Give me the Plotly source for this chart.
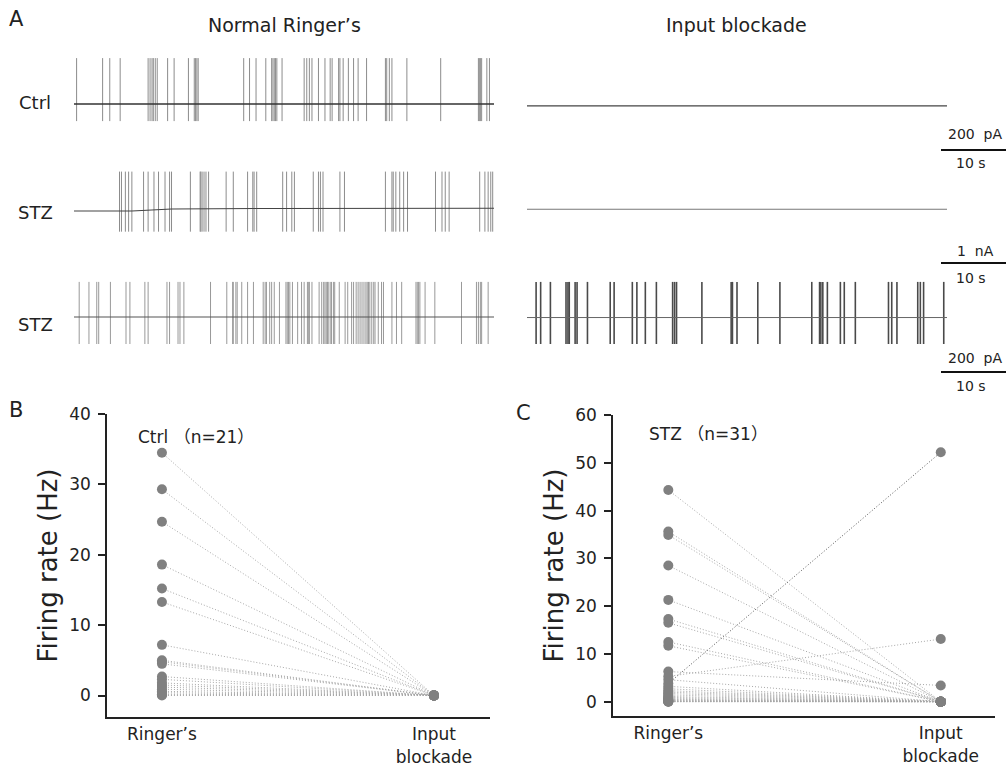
import plotly.graph_objects as go

W, H = 1006, 768
FONT = "DejaVu Sans"

# ---------------- Panel A: spike times (s) ----------------
ctrl_ringer_spikes = [0.4, 4.4, 5.5, 7.1, 11.4, 11.7, 12.0, 12.2, 12.5, 12.8, 14.4, 15.4, 17.6,
                      18.5, 18.7, 18.9, 19.1, 26.1, 27.0, 28.0, 29.5, 30.4, 30.6, 30.8, 31.0, 31.2,
                      32.0, 35.4, 35.8, 36.2, 36.6, 37.6, 38.6, 39.4, 39.7, 40.7, 40.9, 41.4, 42.2,
                      43.0, 43.7, 45.0, 47.9, 48.1, 48.5, 48.9, 51.2, 56.4, 62.2, 62.4, 62.5, 62.7,
                      63.5, 63.9]
stz1_ringer_spikes = [7.0, 7.3, 7.9, 8.4, 8.9, 10.7, 11.4, 12.3, 13.0, 14.0, 14.7, 15.0, 17.9,
                      19.4, 19.5, 19.7, 20.0, 20.3, 20.7, 23.4, 24.5, 26.7, 27.5, 27.7, 28.1, 32.1,
                      32.7, 33.5, 33.9, 36.8, 37.6, 37.9, 38.3, 40.9, 41.6, 47.9, 48.9, 49.1, 49.5,
                      50.1, 50.7, 51.3, 55.6, 56.6, 57.1, 57.7, 62.4, 63.2, 63.7, 64.1, 64.4]
stz1_base_t = [0.0, 8.9, 15.0, 30.0, 64.6]
stz1_base_i = [-55, -55, -10, 0, 5]
stz2_ringer_spikes = [0.8, 2.3, 3.5, 3.8, 5.6, 8.0, 8.6, 10.9, 11.4, 14.3, 14.7, 16.0, 16.3, 16.9,
                      21.0, 23.5, 24.4, 24.5, 24.9, 25.1, 25.8, 26.7, 27.6, 29.1, 29.4, 29.6, 30.1,
                      30.4, 30.8, 31.6, 32.6, 32.8, 33.0, 33.2, 33.6, 34.4, 35.0, 35.4, 35.9, 36.1,
                      36.2, 36.6, 37.7, 38.1, 38.4, 38.6, 38.8, 39.0, 39.1, 39.4, 39.6, 39.9, 40.1,
                      40.8, 41.7, 42.1, 42.7, 43.0, 43.4, 43.7, 44.0, 44.3, 44.6, 44.9, 45.1, 45.3,
                      45.5, 45.8, 46.1, 46.3, 46.8, 47.3, 47.6, 48.9, 49.6, 50.4, 52.6, 52.8, 53.0,
                      53.2, 54.0, 55.5, 59.6, 61.9, 62.2, 62.5, 62.7, 63.7]
stz2_block_bursts = [1.4, 2.1, 3.6, 6.0, 6.3, 6.5, 7.4, 7.7, 9.3, 12.8, 13.4, 16.2, 16.9, 18.2,
                     19.9, 22.4, 22.7, 23.0, 26.9, 31.4, 31.6, 32.3, 35.5, 38.9, 43.8, 45.0, 45.2,
                     45.5, 46.2, 48.2, 48.8, 50.5, 55.6, 56.1, 56.9, 60.1, 60.5, 61.0, 64.1]

# spike extents (pA) per recording
ctrl_spike_range = [-95, 255]
stz1_spike_range = [-515, 820]
stz2_spike_range = [-150, 195]
trace_len_s = 64.6

# ---------------- Panels B & C: firing rates (Hz) ----------------
group_labels = ["Ringer\u2019s", "Input<br>blockade"]
ctrl_ringer = [34.5, 29.3, 24.7, 18.6, 15.2, 13.3, 7.2, 5.0, 4.8, 4.5, 2.7, 2.3, 1.8, 1.5, 1.2,
               0.9, 0.6, 0.4, 0.2, 0.1, 0.0]
ctrl_block = [0.0, 0.0, 0.0, 0.0, 0.0, 0.0, 0.0, 0.0, 0.0, 0.0, 0.0, 0.0, 0.0, 0.0, 0.0,
              0.0, 0.0, 0.0, 0.0, 0.0, 0.0]
stz_ringer = [44.3, 35.6, 34.9, 28.5, 21.3, 17.3, 16.5, 12.5, 11.7, 6.3, 5.3, 4.6, 3.8, 3.2, 2.7,
              2.3, 2.0, 1.7, 1.4, 1.1, 0.9, 0.7, 0.5, 0.4, 0.3, 0.2, 0.1, 0.1, 0.05, 0.0, 0.0]
stz_block = [0.0, 0.0, 0.0, 0.0, 0.0, 0.0, 0.0, 0.0, 0.0, 3.4, 13.1, 0.0, 52.2, 0.0, 0.0,
             0.0, 0.0, 0.0, 0.0, 0.0, 0.0, 0.0, 0.0, 0.0, 0.0, 0.0, 0.0, 0.0, 0.0, 0.0, 0.0]


def xd(a, b):
    return [a / W, b / W]


def yd(top, bottom):
    return [1 - bottom / H, 1 - top / H]


def px_x(p):
    return p / W


def px_y(p):
    return 1 - p / H


fig = go.Figure()


def spikes(times, rng):
    xs, ys = [], []
    for t in times:
        xs += [t, t, None]
        ys += [rng[0], rng[1], None]
    return xs, ys


def add_line(x, y, ax, color, width):
    fig.add_trace(go.Scatter(x=x, y=y, mode="lines", xaxis="x" + ax, yaxis="y" + ax,
                             line=dict(color=color, width=width), hoverinfo="skip",
                             showlegend=False, connectgaps=False))


# row 1 (Ctrl)
sx, sy = spikes(ctrl_ringer_spikes, ctrl_spike_range)
add_line(sx, sy, "", "#8c8c8c", 1)
add_line([0, trace_len_s], [0, 0], "", "#333333", 1.6)
add_line([0, trace_len_s], [-10, -10], "2", "#444444", 1.3)
# row 2 (STZ)
sx, sy = spikes(stz1_ringer_spikes, stz1_spike_range)
add_line(sx, sy, "3", "#8c8c8c", 1)
add_line(stz1_base_t, stz1_base_i, "3", "#444444", 1.1)
add_line([0, trace_len_s], [-15, -15], "4", "#777777", 1.1)
# row 3 (STZ)
sx, sy = spikes(stz2_ringer_spikes, stz2_spike_range)
add_line(sx, sy, "5", "#999999", 1)
add_line([0, trace_len_s], [0, 0], "5", "#555555", 1.1)
sx, sy = spikes(stz2_block_bursts, stz2_spike_range)
add_line(sx, sy, "6", "#4a4a4a", 1.6)
add_line([0, trace_len_s], [-3, -3], "6", "#666666", 1)

# trace axes layout
rows = [(50, 130, 104, 0.18), (160, 245, 208.5, 0.045), (270, 355, 317, 0.18)]
cols = [(74, 494), (527, 947)]
layout_axes = {}
idx = 1
for (top, bottom, base, ppa) in rows:
    yr = [-(bottom - base) / ppa, (base - top) / ppa]
    for (l, r) in cols:
        xn = "xaxis" if idx == 1 else "xaxis%d" % idx
        yn = "yaxis" if idx == 1 else "yaxis%d" % idx
        anchor_y = "y" if idx == 1 else "y%d" % idx
        anchor_x = "x" if idx == 1 else "x%d" % idx
        layout_axes[xn] = dict(domain=xd(l, r), range=[0, trace_len_s], visible=False,
                               anchor=anchor_y, fixedrange=True, automargin=False)
        layout_axes[yn] = dict(domain=yd(top, bottom), range=yr, visible=False,
                               anchor=anchor_x, fixedrange=True, automargin=False)
        idx += 1


# ---------------- Panels B and C ----------------
def pair_lines(r, b, skip=None):
    xs, ys = [], []
    for i, (a, c) in enumerate(zip(r, b)):
        if skip is not None and i == skip:
            continue
        xs += [0, 1, None]
        ys += [a, c, None]
    return xs, ys


DOT = "1px,2px"
xs, ys = pair_lines(ctrl_ringer, ctrl_block)
fig.add_trace(go.Scatter(x=xs, y=ys, mode="lines", xaxis="x7", yaxis="y7",
                         line=dict(color="#a8a8a8", width=1, dash=DOT), showlegend=False,
                         hoverinfo="skip"))
fig.add_trace(go.Scatter(x=[0 for _ in ctrl_ringer] + [1 for _ in ctrl_block],
                         y=ctrl_ringer + ctrl_block, mode="markers", xaxis="x7", yaxis="y7",
                         marker=dict(color="#808080", size=10), showlegend=False))

up_idx = stz_block.index(max(stz_block))
xs, ys = pair_lines(stz_ringer, stz_block, skip=up_idx)
fig.add_trace(go.Scatter(x=xs, y=ys, mode="lines", xaxis="x8", yaxis="y8",
                         line=dict(color="#a8a8a8", width=1, dash=DOT), showlegend=False,
                         hoverinfo="skip"))
fig.add_trace(go.Scatter(x=[0, 1], y=[stz_ringer[up_idx], stz_block[up_idx]], mode="lines",
                         xaxis="x8", yaxis="y8",
                         line=dict(color="#555555", width=1, dash=DOT), showlegend=False,
                         hoverinfo="skip"))
fig.add_trace(go.Scatter(x=[0 for _ in stz_ringer] + [1 for _ in stz_block],
                         y=stz_ringer + stz_block, mode="markers", xaxis="x8", yaxis="y8",
                         marker=dict(color="#808080", size=10), showlegend=False))

axfont = dict(family=FONT, size=17, color="#222222")
common_y = dict(showline=True, linecolor="#222222", linewidth=1.5, ticks="outside",
                ticklen=7, tickwidth=1.5, tickcolor="#222222", showgrid=False, zeroline=False,
                tickfont=axfont, ticklabelstandoff=4, fixedrange=True, automargin=False,
                title=dict(text="Firing rate (Hz)", font=dict(family=FONT, size=26, color="#222222"),
                           standoff=4))
common_x = dict(showline=True, linecolor="#222222", linewidth=2, ticks="", showgrid=False,
                zeroline=False, tickvals=[0, 1], ticktext=group_labels, automargin=False,
                tickfont=dict(family=FONT, size=17, color="#222222"), fixedrange=True,
                ticklabelstandoff=1)

layout_axes["xaxis7"] = dict(common_x, domain=xd(107, 490), range=[-0.202, 1.206], anchor="y7")
layout_axes["yaxis7"] = dict(common_y, domain=yd(414, 717), range=[-3.05, 40],
                             tickvals=[0, 10, 20, 30, 40], anchor="x7")
layout_axes["xaxis8"] = dict(common_x, domain=xd(613, 995), range=[-0.203, 1.199], anchor="y8")
layout_axes["yaxis8"] = dict(common_y, domain=yd(415, 716), range=[-3.0, 60],
                             tickvals=[0, 10, 20, 30, 40, 50, 60], anchor="x8")

# ---------------- annotations ----------------
ann = []


def text(s, x, y, size, xanchor="center", yanchor="middle"):
    ann.append(dict(text=s, x=px_x(x), y=px_y(y), xref="paper", yref="paper", showarrow=False,
                    xanchor=xanchor, yanchor=yanchor,
                    font=dict(family=FONT + ", Noto Sans CJK SC", size=size, color="#222222")))


text("A", 7, 19, 21, xanchor="left")
text("B", 7, 410, 21, xanchor="left")
text("C", 514, 413, 21, xanchor="left")
text("Normal Ringer\u2019s", 284, 25, 19)
text("Input blockade", 736, 25, 19)
text("Ctrl", 35, 102, 18)
text("STZ", 35, 212, 18)
text("STZ", 35, 325, 18)
text("Ctrl \uff08n=21\uff09", 136, 437, 17, xanchor="left")
text("STZ \uff08n=31\uff09", 647, 434, 17, xanchor="left")

# scale bars
bars = [("200\u00a0 pA", 134, 150, 163), ("1\u00a0 nA", 251, 263, 278), ("200\u00a0 pA", 358, 372, 386)]
shapes = []
for lab, ty, ly, by in bars:
    text(lab, 975, ty, 14)
    text("10 s", 971, by, 14)
    shapes.append(dict(type="line", xref="paper", yref="paper", x0=px_x(941), x1=px_x(1006),
                       y0=px_y(ly), y1=px_y(ly), line=dict(color="#111111", width=2)))

fig.update_layout(width=W, height=H, margin=dict(l=0, r=0, t=0, b=0, autoexpand=False),
                  paper_bgcolor="white", plot_bgcolor="white", showlegend=False,
                  annotations=ann, shapes=shapes, **layout_axes)

fig.write_html("out.html", config={"displayModeBar": False},
               post_script="document.body.style.margin='0';")
